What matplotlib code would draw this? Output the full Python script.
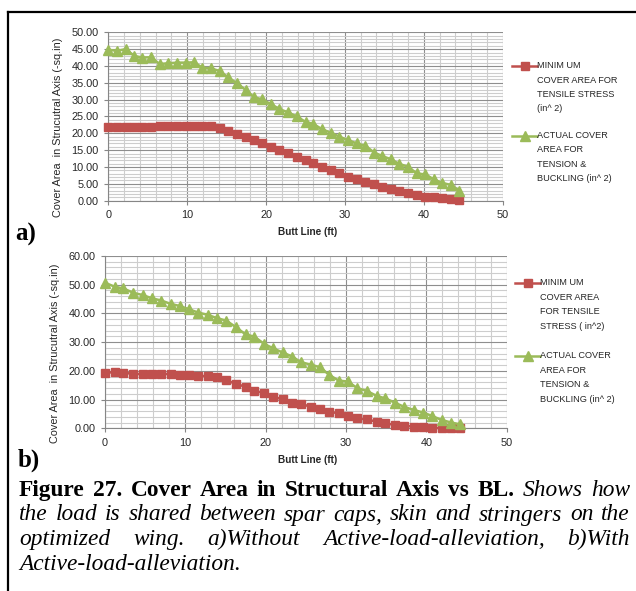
## Imports

import matplotlib
matplotlib.use('Agg')
from matplotlib import pyplot as plt
from matplotlib.ticker import MultipleLocator, FormatStrFormatter
from matplotlib.lines import Line2D

## Données

# a) sans allègement actif
BL_a = [0, 1.1, 2.2, 3.3, 4.3, 5.4, 6.5, 7.6, 8.7, 9.8, 10.9, 11.9, 13.0, 14.1,
        15.2, 16.3, 17.4, 18.5, 19.5, 20.6, 21.7, 22.8, 23.9, 25.0, 26.0, 27.1,
        28.2, 29.3, 30.4, 31.5, 32.6, 33.7, 34.7, 35.8, 36.9, 38.0, 39.1, 40.2,
        41.3, 42.3, 43.4, 44.5]
Min_a = [21.8, 21.8, 21.8, 21.8, 21.8, 21.9, 22.2, 22.2, 22.2, 22.2, 22.2, 22.2,
         22.1, 21.5, 20.8, 19.7, 19.0, 18.0, 17.0, 16.0, 15.0, 14.1, 13.1, 12.2,
         11.1, 10.1, 9.1, 8.3, 7.1, 6.3, 5.6, 5.0, 4.2, 3.4, 2.9, 2.4, 1.7, 1.2,
         1.0, 0.7, 0.4, 0.1]
Act_a = [44.8, 44.5, 45.0, 43.0, 42.5, 42.6, 40.6, 40.8, 41.0, 41.0, 41.1, 39.5,
         39.3, 38.5, 36.6, 34.9, 32.9, 30.7, 30.1, 28.7, 27.2, 26.2, 25.0, 23.4,
         22.8, 21.2, 20.2, 19.0, 18.0, 17.0, 16.3, 14.3, 13.3, 12.3, 10.9, 10.1,
         8.1, 7.8, 6.3, 5.3, 4.7, 3.0]

# b) avec allègement actif
BL_b = [0, 1.2, 2.3, 3.5, 4.7, 5.8, 7.0, 8.2, 9.3, 10.5, 11.6, 12.8, 14.0, 15.1,
        16.3, 17.5, 18.6, 19.8, 20.9, 22.1, 23.3, 24.4, 25.6, 26.8, 27.9, 29.1,
        30.2, 31.4, 32.6, 33.8, 34.9, 36.1, 37.2, 38.4, 39.6, 40.7, 41.9, 43.1,
        44.2]
Min_b = [19.4, 19.5, 19.4, 18.9, 18.9, 18.9, 18.9, 18.9, 18.6, 18.6, 18.2, 18.2,
         17.8, 16.8, 15.4, 14.5, 13.1, 12.2, 11.0, 10.1, 8.9, 8.5, 7.5, 6.7, 5.8,
         5.2, 4.3, 3.5, 3.1, 2.3, 1.7, 1.2, 0.9, 0.6, 0.3, 0.1, 0.1, 0.1, 0.1]
Act_b = [50.7, 49.3, 48.7, 47.2, 46.4, 45.3, 44.5, 43.3, 42.6, 41.4, 40.3, 39.5,
         38.3, 37.5, 35.2, 32.7, 31.9, 29.4, 27.9, 26.4, 25.0, 23.0, 22.2, 21.2,
         18.6, 16.6, 16.3, 14.0, 13.0, 11.3, 10.4, 8.9, 7.5, 6.4, 5.5, 4.3, 2.9,
         2.0, 1.4]

Leg_min_a = ["MINIM UM", "COVER AREA FOR", "TENSILE STRESS", "(in^ 2)"]
Leg_act_a = ["ACTUAL COVER", "AREA FOR", "TENSION &", "BUCKLING (in^ 2)"]
Leg_min_b = ["MINIM UM", "COVER AREA", "FOR TENSILE", "STRESS ( in^2)"]
Leg_act_b = ["ACTUAL COVER", "AREA FOR", "TENSION &", "BUCKLING (in^ 2)"]

Titre_y = "Cover Area  in Strucutral Axis (-sq.in)"
Titre_x = "Butt Line (ft)"

Rouge = '#C0504D'
Vert = '#9BBB59'
Gris = '#868686'
Texte = '#262626'
Sans = 'Liberation Sans'
Serif = 'Liberation Serif'

## Figure

W, H = 636, 591
fig = plt.figure(figsize=(W/100, H/100), dpi=100)

def px(x):
    return x/W

def py(y):
    return 1 - y/H

def Graphe(x0, y0, x1, y1, BL, Amin, Aact, ymax, ymaj, ymin):
    ax = fig.add_axes([px(x0), py(y1), px(x1) - px(x0), py(y0) - py(y1)])
    ax.plot(BL, Amin, color=Rouge, marker='s', ms=5.8, lw=1.8, clip_on=False, zorder=3)
    ax.plot(BL, Aact, color=Vert, marker='^', ms=6.8, lw=1.8, clip_on=False, zorder=4)
    ax.set_xlim(0, 50)
    ax.set_ylim(0, ymax)
    ax.xaxis.set_major_locator(MultipleLocator(10))
    ax.xaxis.set_minor_locator(MultipleLocator(2))
    ax.yaxis.set_major_locator(MultipleLocator(ymaj))
    ax.yaxis.set_minor_locator(MultipleLocator(ymin))
    ax.yaxis.set_major_formatter(FormatStrFormatter('%.2f'))
    ax.grid(which='major', color='#8e8e8e', lw=0.8)
    ax.grid(which='minor', color='#cdcdcd', lw=0.8)
    ax.set_axisbelow(True)
    for s in ['top', 'right']:
        ax.spines[s].set_visible(False)
    for s in ['left', 'bottom']:
        ax.spines[s].set_color(Gris)
    ax.tick_params(which='major', length=3, color=Gris, labelsize=7.8,
                   labelcolor=Texte, pad=4)
    ax.tick_params(which='minor', length=0)
    for t in ax.get_xticklabels() + ax.get_yticklabels():
        t.set_family(Sans)
    return ax

def Legende(x0, y0, dy, lignes, couleur, marqueur, ms):
    fig.add_artist(Line2D([px(x0), px(x0 + 25)], [py(y0), py(y0)], color=couleur, lw=1.8))
    fig.add_artist(Line2D([px(x0 + 12.5)], [py(y0)], color=couleur, marker=marqueur,
                          ms=ms, lw=0))
    for i, l in enumerate(lignes):
        fig.text(px(x0 + 25), py(y0 + i*dy), l, fontsize=6.6, family=Sans,
                 color=Texte, va='center')

## a)

Graphe(108.3, 32.3, 502.7, 200.7, BL_a, Min_a, Act_a, 50, 5, 1)
fig.text(px(58), py(127), Titre_y, rotation=90, fontsize=7.8, family=Sans,
         color=Texte, ha='center', va='center')
fig.text(px(307.5), py(232), Titre_x, fontsize=7.2, family=Sans, weight='bold',
         color=Texte, ha='center', va='center')
Legende(512, 66, 14.3, Leg_min_a, Rouge, 's', 5.8)
Legende(512, 135.7, 14.3, Leg_act_a, Vert, '^', 6.8)
fig.text(px(15), py(241), "a)", fontsize=18, family=Serif, weight='bold', va='baseline')

## b)

Graphe(105, 256, 506.7, 428.3, BL_b, Min_b, Act_b, 60, 10, 2)
fig.text(px(55), py(353), Titre_y, rotation=90, fontsize=7.8, family=Sans,
         color=Texte, ha='center', va='center')
fig.text(px(307.5), py(460), Titre_x, fontsize=7.2, family=Sans, weight='bold',
         color=Texte, ha='center', va='center')
Legende(515, 282.7, 14.5, Leg_min_b, Rouge, 's', 5.8)
Legende(515, 355.7, 14.5, Leg_act_b, Vert, '^', 6.8)
fig.text(px(18), py(467), "b)", fontsize=18, family=Serif, weight='bold', va='baseline')

## Cadre

fig.add_artist(Line2D([px(8), px(W)], [py(12), py(12)], color='black', lw=1.6))
fig.add_artist(Line2D([px(8), px(8)], [py(12), py(H)], color='black', lw=1.6))

## Légende de la figure (texte justifié)

Caption = [
    [("Figure 27.  Cover Area in Structural Axis vs BL.", 'bold', 'normal'),
     ("Shows how", 'normal', 'italic')],
    [("the load is shared between spar caps, skin and stringers on the", 'normal', 'italic')],
    [("optimized wing. a)Without Active-load-alleviation, b)With", 'normal', 'italic')],
    [("Active-load-alleviation.", 'normal', 'italic')],
]
Bases = [496, 520.5, 545, 569.5]
G, D = 19, 630
Taille = 16.8

r = fig.canvas.get_renderer()
for n, ligne in enumerate(Caption):
    mots = []
    for txt, w, s in ligne:
        for m in txt.split():
            mots.append((m, w, s))
    objs = []
    for m, w, s in mots:
        objs.append(fig.text(0, py(Bases[n]), m, fontsize=Taille, family=Serif,
                             weight=w, style=s, va='baseline'))
    larg = [o.get_window_extent(r).width for o in objs]
    if n < len(Caption) - 1 and len(mots) > 1:
        esp = (D - G - sum(larg)) / (len(mots) - 1)
    else:
        esp = 0.25 * Taille * 100 / 72
    x = G
    for o, l in zip(objs, larg):
        o.set_x(px(x))
        x += l + esp

plt.savefig("out.png", dpi=100)
